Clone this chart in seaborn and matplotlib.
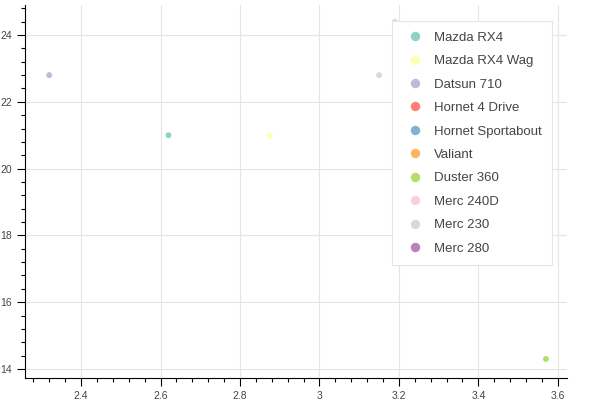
import matplotlib.pyplot as plt
import seaborn as sns
import pandas as pd
from matplotlib.ticker import AutoMinorLocator

cars = ["Mazda RX4", "Mazda RX4 Wag", "Datsun 710", "Hornet 4 Drive", "Hornet Sportabout",
        "Valiant", "Duster 360", "Merc 240D", "Merc 230", "Merc 280"]
wt = [2.62, 2.875, 2.32, 3.215, 3.44, 3.46, 3.57, 3.19, 3.15, 3.44]
mpg = [21.0, 21.0, 22.8, 21.4, 18.7, 18.1, 14.3, 24.4, 22.8, 19.2]
colors = ["#8dd3c7", "#ffffb3", "#bebada", "#fb8072", "#80b1d3",
          "#fdb462", "#b3de69", "#fccde5", "#d9d9d9", "#bc80bd"]

df = pd.DataFrame({"car": cars, "wt": wt, "mpg": mpg})

sns.set_style("whitegrid")
plt.rcParams["font.family"] = ["Liberation Sans", "DejaVu Sans"]
fig = plt.figure(figsize=(6, 4), dpi=100)
ax = fig.add_axes([25 / 600, 22 / 400, 542 / 600, 373 / 400])

sns.scatterplot(data=df, x="wt", y="mpg", hue="car", palette=colors, s=18,
                edgecolor="none", ax=ax)

ax.set_xlim(2.259, 3.623)
ax.set_ylim(13.73, 24.9)
ax.set_xticks([2.4, 2.6, 2.8, 3.0, 3.2, 3.4, 3.6])
ax.set_xticklabels(["2.4", "2.6", "2.8", "3", "3.2", "3.4", "3.6"])
ax.set_yticks([14, 16, 18, 20, 22, 24])
ax.xaxis.set_minor_locator(AutoMinorLocator(5))
ax.yaxis.set_minor_locator(AutoMinorLocator(5))
ax.grid(True, which="major", color="#e5e5e5", linewidth=0.8)
ax.grid(False, which="minor")
ax.set_xlabel("")
ax.set_ylabel("")
for s in ["top", "right"]:
    ax.spines[s].set_visible(False)
for s in ["left", "bottom"]:
    ax.spines[s].set_color("black")
    ax.spines[s].set_linewidth(0.8)
ax.tick_params(which="major", direction="out", length=6, color="black", labelsize=7.5,
               width=0.8, labelcolor="#444444")
ax.tick_params(which="minor", direction="out", length=3, color="black", width=0.8)
ax.tick_params(axis="both", which="both", bottom=True, left=True)

leg = ax.legend(loc="upper right", bbox_to_anchor=(0.985, 0.975), frameon=True, fontsize=9.5,
                markerscale=1.6, labelspacing=0.85, borderpad=0.8, handletextpad=0.4,
                fancybox=False, framealpha=1)
leg.get_frame().set_edgecolor("#e5e5e5")
leg.get_frame().set_linewidth(0.8)
for t in leg.get_texts():
    t.set_color("#444444")

fig.savefig("out.png", dpi=100)
